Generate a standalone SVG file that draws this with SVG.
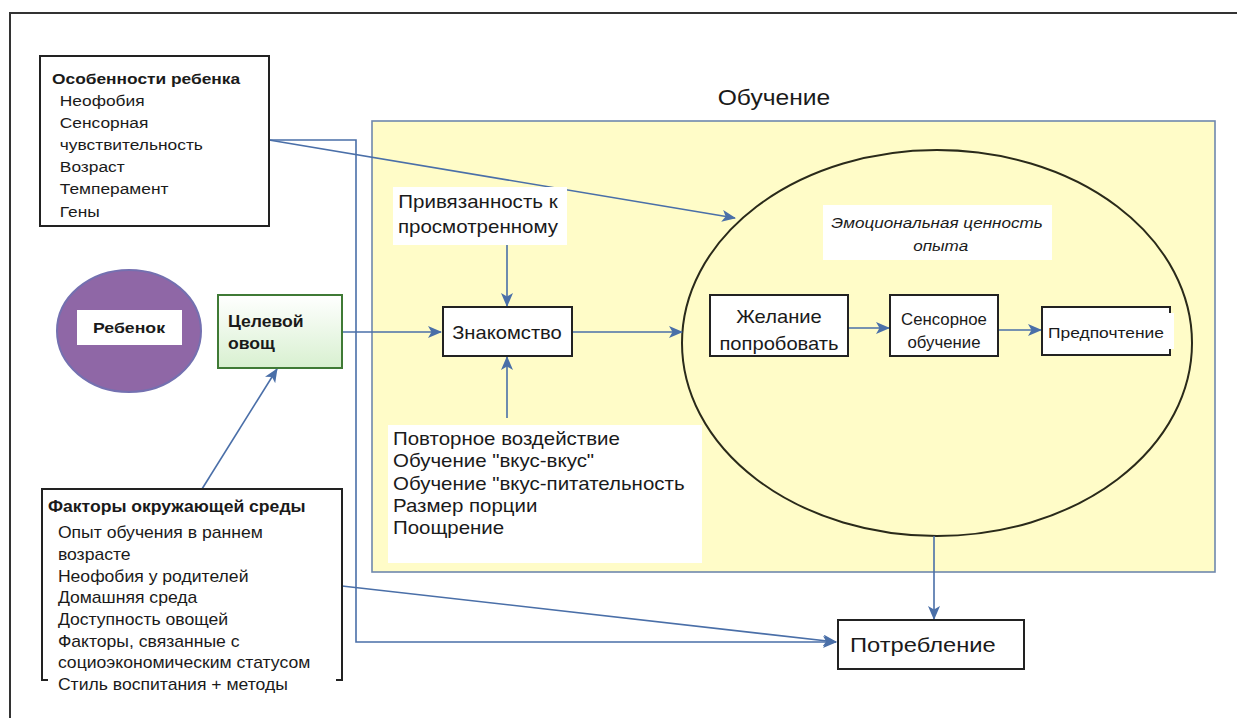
<svg xmlns="http://www.w3.org/2000/svg" width="1237" height="718" viewBox="0 0 1237 718">
<style>
.t{font-family:"Liberation Sans",Arial,sans-serif;fill:#1a1a1a}
.b{font-weight:bold}
.m{text-anchor:middle}
.box{fill:#fff;stroke:#222;stroke-width:2}
.c{fill:none;stroke:#4a6fa8;stroke-width:1.6}
</style>
<defs>
<marker id="ah" viewBox="0 0 14 12" refX="13" refY="6" markerWidth="14" markerHeight="12" markerUnits="userSpaceOnUse" orient="auto">
<path d="M0,0 L14,6 L0,12 L3.5,6 Z" fill="#4a6fa8"/>
</marker>
<linearGradient id="gg" x1="0" y1="0" x2="0" y2="1">
<stop offset="0" stop-color="#ffffff"/>
<stop offset="1" stop-color="#d8f0d0"/>
</linearGradient>
</defs>
<rect width="1237" height="718" fill="#fff"/>
<path d="M10,718 L10,13 L1237,13" fill="none" stroke="#333" stroke-width="2"/>

<g id="learning">
<rect x="372" y="121" width="843" height="451" fill="#fffcc8" stroke="#6f88ad" stroke-width="1.6"/>
<text class="t m" x="774" y="105" font-size="22" transform="translate(774 0) scale(1.12 1) translate(-774 0)">Обучение</text>
</g>

<g id="emotional">
<ellipse cx="937" cy="343" rx="255" ry="193" fill="none" stroke="#2a2a1a" stroke-width="2"/>
<rect x="823" y="205" width="229" height="55" fill="#fff"/>
<g transform="translate(937 0) scale(1.22 1) translate(-937 0)">
<text class="t m" x="937" y="228" font-size="14" font-style="italic">Эмоциональная ценность</text>
<text class="t m" x="940" y="251" font-size="14" font-style="italic">опыта</text>
</g>
</g>

<g id="connectors">
<line class="c" x1="269" y1="140" x2="735" y2="218" marker-end="url(#ah)"/>
<polyline class="c" points="269,140 356,140 356,642 836,642" marker-end="url(#ah)"/>
<line class="c" x1="342" y1="586" x2="836" y2="642" marker-end="url(#ah)"/>
<line class="c" x1="202" y1="489" x2="277" y2="369" marker-end="url(#ah)"/>
<line class="c" x1="342" y1="332" x2="441" y2="332" marker-end="url(#ah)"/>
<line class="c" x1="572" y1="332" x2="682" y2="332" marker-end="url(#ah)"/>
<line class="c" x1="507" y1="245" x2="507" y2="306" marker-end="url(#ah)"/>
<line class="c" x1="507" y1="418" x2="507" y2="357" marker-end="url(#ah)"/>
<line class="c" x1="848" y1="328" x2="889" y2="328" marker-end="url(#ah)"/>
<line class="c" x1="998" y1="330" x2="1041" y2="330" marker-end="url(#ah)"/>
<line class="c" x1="934" y1="536" x2="934" y2="619" marker-end="url(#ah)"/>
</g>

<g id="child-traits">
<rect class="box" x="40" y="56" width="229" height="170"/>
<g transform="translate(52 0) scale(1.12 1) translate(-52 0)">
<text class="t b" x="52" y="84" font-size="15.5">Особенности ребенка</text>
<text class="t" x="59" y="106" font-size="15.5">Неофобия</text>
<text class="t" x="59" y="128" font-size="15.5">Сенсорная</text>
<text class="t" x="59" y="150" font-size="15.5">чувствительность</text>
<text class="t" x="59" y="172" font-size="15.5">Возраст</text>
<text class="t" x="59" y="194" font-size="15.5">Темперамент</text>
<text class="t" x="59" y="217" font-size="15.5">Гены</text>
</g>
</g>

<g id="child">
<ellipse cx="129" cy="331" rx="72" ry="61" fill="#8f67a6" stroke="#7470b0" stroke-width="2"/>
<rect x="77" y="310" width="105" height="35" fill="#fff"/>
<text class="t b m" x="129" y="333" font-size="14.5" transform="translate(129 0) scale(1.22 1) translate(-129 0)">Ребенок</text>
</g>

<g id="target-veg">
<rect x="218" y="295" width="124" height="73" fill="url(#gg)" stroke="#3f7a35" stroke-width="2"/>
<g transform="translate(228 0) scale(1.1 1) translate(-228 0)">
<text class="t b" x="228" y="327" font-size="16">Целевой</text>
<text class="t b" x="228" y="349" font-size="16">овощ</text>
</g>
</g>

<g id="env-factors">
<rect class="box" x="42" y="489" width="300" height="191"/>
<rect x="48" y="674" width="288" height="24" fill="#fff"/>
<g transform="translate(48 0) scale(1.1 1) translate(-48 0)">
<text class="t b" x="48" y="512" font-size="16">Факторы окружающей среды</text>
<text class="t" x="57" y="538" font-size="16">Опыт обучения в раннем</text>
<text class="t" x="57" y="560" font-size="16">возрасте</text>
<text class="t" x="57" y="582" font-size="16">Неофобия у родителей</text>
<text class="t" x="57" y="603" font-size="16">Домашняя среда</text>
<text class="t" x="57" y="625" font-size="16">Доступность овощей</text>
<text class="t" x="57" y="647" font-size="16">Факторы, связанные с</text>
<text class="t" x="57" y="668" font-size="16">социоэкономическим статусом</text>
<text class="t" x="57" y="690" font-size="16">Стиль воспитания + методы</text>
</g>
</g>

<g id="attachment">
<rect x="393" y="187" width="174" height="58" fill="#fff"/>
<g transform="translate(478 0) scale(1.14 1) translate(-478 0)">
<text class="t m" x="478" y="208" font-size="18">Привязанность к</text>
<text class="t m" x="478" y="233" font-size="18">просмотренному</text>
</g>
</g>

<g id="familiarity">
<rect class="box" x="443" y="307" width="129" height="49"/>
<text class="t m" x="507" y="339" font-size="18" transform="translate(507 0) scale(1.12 1) translate(-507 0)">Знакомство</text>
</g>

<g id="exposure">
<rect x="388" y="425" width="314" height="138" fill="#fff"/>
<g transform="translate(393 0) scale(1.17 1) translate(-393 0)">
<text class="t" x="393" y="445" font-size="17.5">Повторное воздействие</text>
<text class="t" x="393" y="467" font-size="17.5">Обучение "вкус-вкус"</text>
<text class="t" x="393" y="490" font-size="17.5">Обучение "вкус-питательность</text>
<text class="t" x="393" y="512" font-size="17.5">Размер порции</text>
<text class="t" x="393" y="534" font-size="17.5">Поощрение</text>
</g>
</g>

<g id="willingness">
<rect class="box" x="710" y="295" width="138" height="61"/>
<g transform="translate(779 0) scale(1.12 1) translate(-779 0)">
<text class="t m" x="779" y="323" font-size="18">Желание</text>
<text class="t m" x="779" y="350" font-size="18">попробовать</text>
</g>
</g>

<g id="sensory">
<rect class="box" x="890" y="295" width="108" height="61"/>
<g transform="translate(944 0) scale(1.05 1) translate(-944 0)">
<text class="t m" x="944" y="325" font-size="16">Сенсорное</text>
<text class="t m" x="944" y="348" font-size="16">обучение</text>
</g>
</g>

<g id="preference">
<rect class="box" x="1042" y="307" width="128" height="48"/>
<rect x="1046" y="313" width="128" height="36" fill="#fff"/>
<text class="t m" x="1106" y="338" font-size="15" transform="translate(1106 0) scale(1.16 1) translate(-1106 0)">Предпочтение</text>
</g>

<g id="consumption">
<rect class="box" x="838" y="620" width="186" height="49"/>
<text class="t" x="850" y="652" font-size="21" transform="translate(850 0) scale(1.13 1) translate(-850 0)">Потребление</text>
</g>
</svg>
